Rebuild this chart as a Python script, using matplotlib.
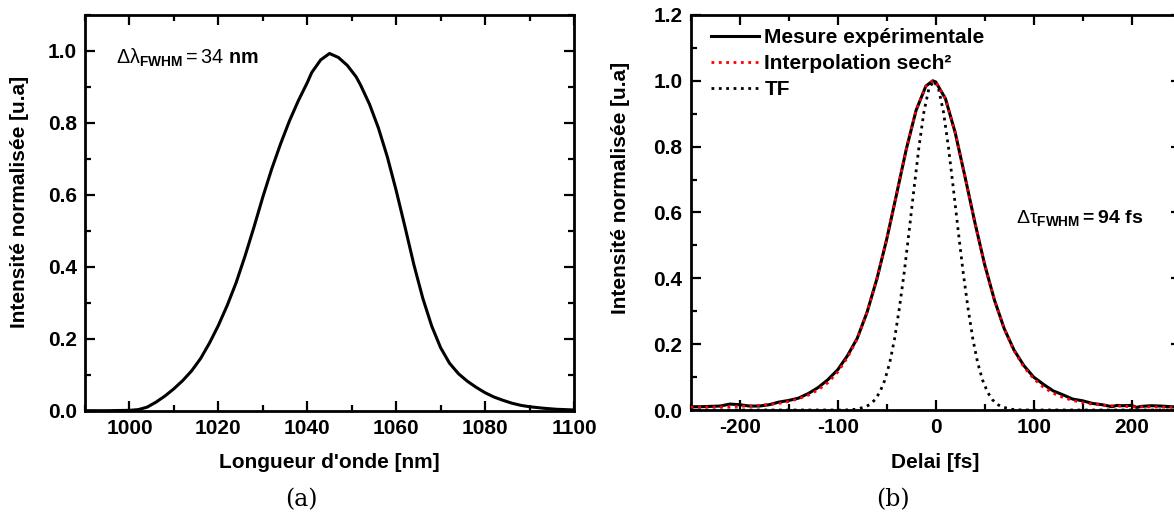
import matplotlib
matplotlib.use('Agg')
import matplotlib.pyplot as plt
from matplotlib.ticker import MultipleLocator, FormatStrFormatter

# --- data ---
# (a) spectrum
wavelength = [990, 995, 1000, 1002, 1004, 1006, 1008, 1010, 1012, 1014, 1016, 1018,
              1020, 1022, 1024, 1026, 1028, 1030, 1032, 1034, 1036, 1038, 1040, 1041,
              1043, 1045, 1047, 1049, 1051, 1052, 1054, 1056, 1058, 1060, 1062, 1064,
              1066, 1068, 1070, 1072, 1074, 1076, 1078, 1080, 1082, 1084, 1086, 1088,
              1090, 1093, 1096, 1100]
spectrum = [0.000, 0.000, 0.001, 0.003, 0.010, 0.024, 0.041, 0.061, 0.084, 0.111, 0.145, 0.188,
            0.237, 0.293, 0.356, 0.430, 0.510, 0.594, 0.672, 0.742, 0.806, 0.862, 0.912, 0.940,
            0.975, 0.993, 0.982, 0.960, 0.928, 0.905, 0.852, 0.786, 0.706, 0.612, 0.510, 0.405,
            0.312, 0.235, 0.175, 0.132, 0.103, 0.082, 0.065, 0.050, 0.038, 0.029, 0.021, 0.015,
            0.011, 0.007, 0.004, 0.002]

# (b) autocorrelation
delay = [-250, -240, -230, -220, -210, -200, -190, -180, -170, -160, -150, -140, -130,
         -120, -110, -100, -90, -80, -70, -60, -50, -40, -30, -20, -10, -3, 0, 10, 20,
         30, 40, 50, 60, 70, 80, 90, 100, 110, 120, 130, 140, 150, 160, 170, 180, 185,
         190, 200, 205, 210, 220, 230, 240, 250]
measured = [0.010, 0.010, 0.011, 0.012, 0.018, 0.016, 0.012, 0.012, 0.016, 0.024, 0.029, 0.036, 0.050,
            0.068, 0.092, 0.122, 0.165, 0.218, 0.297, 0.398, 0.518, 0.654, 0.792, 0.910, 0.984, 1.000, 0.997, 0.946, 0.842,
            0.708, 0.570, 0.442, 0.334, 0.247, 0.182, 0.135, 0.100, 0.078, 0.058, 0.046, 0.033, 0.028, 0.020, 0.016, 0.010, 0.014,
            0.013, 0.014, 0.008, 0.011, 0.013, 0.012, 0.010, 0.009]

fit_delay = [-250, -240, -220, -200, -180, -170, -160, -150, -140, -130, -120, -110, -100,
             -90, -80, -70, -60, -50, -40, -30, -20, -10, -3, 0, 10, 20, 30, 40, 50, 60,
             70, 80, 90, 100, 110, 120, 130, 140, 150, 160, 170, 180, 200, 220, 250]
fit_sech2 = [0.009, 0.009, 0.009, 0.011, 0.014, 0.017, 0.020, 0.026, 0.034, 0.045, 0.061, 0.083, 0.115,
             0.159, 0.216, 0.297, 0.398, 0.518, 0.654, 0.792, 0.910, 0.984, 1.000, 0.997, 0.946, 0.842, 0.708, 0.570, 0.442, 0.334,
             0.247, 0.180, 0.131, 0.095, 0.069, 0.051, 0.038, 0.029, 0.022, 0.018, 0.015, 0.013, 0.010, 0.009, 0.008]

tf_delay = [-250, -92, -82, -72, -67, -62, -57, -52, -47, -42, -37, -32, -27, -22, -17, -12, -7,
            -2, 3, 8, 13, 18, 23, 28, 33, 38, 43, 48, 53, 58, 63, 68, 78, 88, 250]
tf = [0.0, 0.0, 0.002, 0.009, 0.017, 0.031, 0.054, 0.090, 0.142, 0.215, 0.310, 0.420, 0.545, 0.675, 0.800, 0.905, 0.975,
      1.0, 0.975, 0.905, 0.800, 0.675, 0.545, 0.420, 0.310, 0.215, 0.142, 0.090, 0.054, 0.031, 0.017, 0.009, 0.002, 0.0, 0.0]

plt.rcParams['font.family'] = ['Liberation Sans', 'DejaVu Sans']
plt.rcParams['font.weight'] = 'bold'
plt.rcParams['axes.unicode_minus'] = False
plt.rcParams['mathtext.fontset'] = 'custom'
plt.rcParams['mathtext.rm'] = 'Liberation Sans:weight=regular'
plt.rcParams['mathtext.it'] = 'Liberation Sans:weight=regular'
plt.rcParams['mathtext.bf'] = 'Liberation Sans:bold'

W, H = 1174, 519
fig = plt.figure(figsize=(W / 100, H / 100), dpi=100)


def px_axes(left, top, right, bottom):
    # place axes using pixel positions of the reference
    return fig.add_axes([left / W, 1 - bottom / H, (right - left) / W, (bottom - top) / H])


def style(ax):
    for s in ax.spines.values():
        s.set_linewidth(2.0)
    ax.tick_params(which='both', direction='in', top=True, right=True, width=1.6,
                   labelsize=15, pad=6)
    ax.tick_params(which='major', length=7)
    ax.tick_params(which='minor', length=4)
    ax.yaxis.set_major_formatter(FormatStrFormatter('%.1f'))


ax1 = px_axes(85, 15, 574, 410.7)
ax2 = px_axes(690.7, 15, 1180.6, 410)

# (a)
ax1.plot(wavelength, spectrum, color='black', lw=2.2)
ax1.set_xlim(990, 1100)
ax1.set_ylim(0, 1.1)
ax1.xaxis.set_major_locator(MultipleLocator(20))
ax1.xaxis.set_minor_locator(MultipleLocator(10))
ax1.yaxis.set_major_locator(MultipleLocator(0.2))
ax1.yaxis.set_minor_locator(MultipleLocator(0.1))
style(ax1)
ax1.text(0.064, 0.891, r'$\Delta\lambda_{\mathbf{FWHM}} = 34\ \mathbf{nm}$',
         transform=ax1.transAxes, fontsize=14.2, va='center')
ax1.text(0.5, -0.132, "Longueur d'onde [nm]", transform=ax1.transAxes,
         ha='center', va='center', fontsize=15)
ax1.text(-0.133, 0.527, 'Intensité normalisée [u.a]', transform=ax1.transAxes,
         ha='center', va='center', rotation=90, fontsize=15)

# (b)
ax2.plot(delay, measured, color='black', lw=2.2, label='Mesure expérimentale', zorder=3)
ax2.plot(fit_delay, fit_sech2, color='red', lw=2, ls=':', label='Interpolation sech²', zorder=4)
ax2.plot(tf_delay, tf, color='black', lw=2, ls=':', label='TF', zorder=2)
ax2.set_xlim(-250, 250)
ax2.set_ylim(0, 1.2)
ax2.xaxis.set_major_locator(MultipleLocator(100))
ax2.xaxis.set_minor_locator(MultipleLocator(50))
ax2.yaxis.set_major_locator(MultipleLocator(0.2))
ax2.yaxis.set_minor_locator(MultipleLocator(0.1))
style(ax2)
ax2.legend(loc='upper left', bbox_to_anchor=(0.041, 0.967), frameon=False, borderpad=0,
           borderaxespad=0, handlelength=2.3, handletextpad=0.27, labelspacing=0.34,
           fontsize=15)
ax2.text(0.663, 0.486, r'$\Delta\tau_{\mathbf{FWHM}}\mathbf{{=}94\ fs}$',
         transform=ax2.transAxes, fontsize=14, va='center')
ax2.text(0.5, -0.134, 'Delai [fs]', transform=ax2.transAxes,
         ha='center', va='center', fontsize=15)
ax2.text(-0.144, 0.562, 'Intensité normalisée [u.a]', transform=ax2.transAxes,
         ha='center', va='center', rotation=90, fontsize=15)

fig.text(301.8 / W, 1 - 500 / H, '(a)', family='DejaVu Serif', fontweight='normal',
         fontsize=17, ha='center', va='center')
fig.text(892.8 / W, 1 - 500 / H, '(b)', family='DejaVu Serif', fontweight='normal',
         fontsize=17, ha='center', va='center')

fig.savefig('out.png', dpi=100)
